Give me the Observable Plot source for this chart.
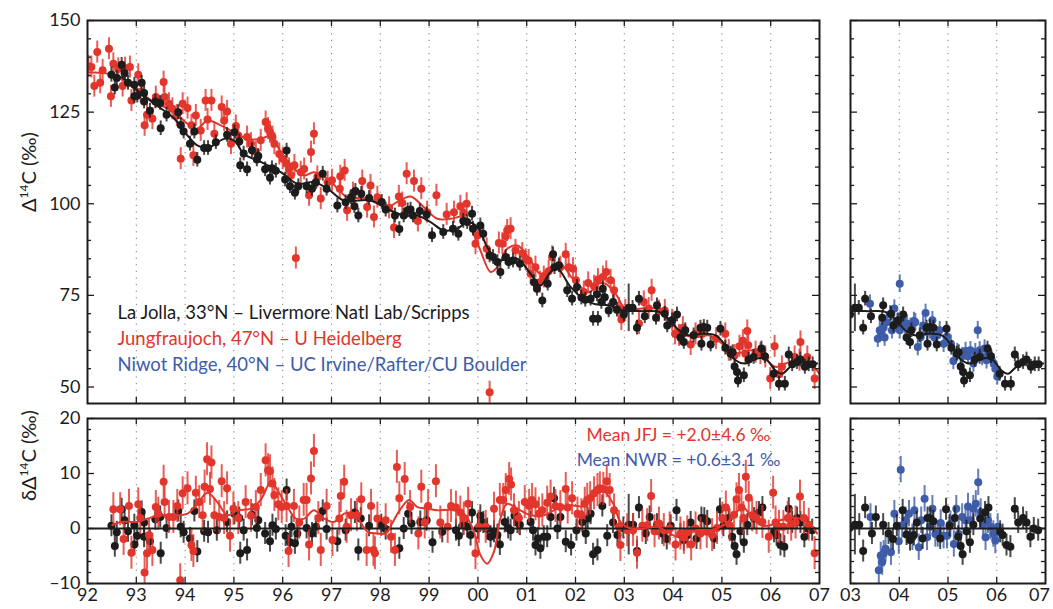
<!DOCTYPE html>
<html><head><meta charset="utf-8">
<script src="https://cdn.jsdelivr.net/npm/d3@7"></script>
<script src="https://cdn.jsdelivr.net/npm/@observablehq/plot@0.6"></script>
<style>
body{margin:0;background:#fff;}
#wrap{position:relative;width:1053px;height:609px;overflow:hidden;background:#fff;}
#wrap svg{position:absolute;overflow:visible;max-width:none;}
</style></head><body><div id="wrap"></div>
<script>
// time = decimal year minus 1900 (92 = 1992, 107 = 2007); values in per mil
const ljTop = [[92.49,135.2],[92.56,131.7],[92.60,134.3],[92.70,137.9],[92.76,135.6],[92.83,133.0],[92.96,132.5],[92.96,129.3],[93.02,129.5],[93.11,133.0],[93.16,130.2],[93.16,127.9],[93.28,125.4],[93.39,127.9],[93.49,127.5],[93.50,120.6],[93.62,124.3],[93.86,125.0],[93.91,121.5],[93.97,119.7],[94.10,116.4],[94.19,119.7],[94.25,112.0],[94.39,115.2],[94.47,115.2],[94.63,116.8],[94.86,118.8],[95.01,119.5],[95.11,117.0],[95.13,110.5],[95.20,113.7],[95.27,109.4],[95.37,114.6],[95.47,112.1],[95.50,113.0],[95.64,109.4],[95.74,107.1],[95.78,109.7],[95.86,109.0],[96.05,106.6],[96.08,114.5],[96.15,104.8],[96.25,103.0],[96.32,104.8],[96.49,104.8],[96.60,104.1],[96.68,105.9],[96.82,108.2],[96.90,104.1],[97.12,99.5],[97.29,100.4],[97.40,101.8],[97.47,99.3],[97.49,103.5],[97.55,96.8],[97.61,102.7],[97.77,101.6],[98.03,100.5],[98.11,98.4],[98.30,96.8],[98.39,93.1],[98.48,96.8],[98.56,98.2],[98.62,98.4],[98.67,96.8],[98.81,98.0],[98.95,97.1],[99.06,91.4],[99.29,92.3],[99.49,93.2],[99.60,91.8],[99.70,95.3],[99.78,95.0],[99.88,97.3],[99.90,93.2],[100.05,94.1],[100.11,91.8],[100.24,85.9],[100.31,85.5],[100.40,84.1],[100.46,81.4],[100.57,85.5],[100.63,84.1],[100.72,84.5],[100.86,83.6],[101.15,78.6],[101.21,76.8],[101.32,73.6],[101.43,78.2],[101.54,86.2],[101.57,82.7],[101.66,83.2],[101.83,76.4],[101.93,74.1],[102.03,77.3],[102.12,74.4],[102.20,73.8],[102.31,74.1],[102.36,68.6],[102.44,75.3],[102.46,68.6],[102.53,73.2],[102.56,76.8],[102.60,74.5],[102.68,70.9],[102.77,73.2],[102.85,71.1],[102.99,69.8],[103.09,71.6,6.5],[103.17,71.6],[103.26,66.2],[103.30,74.1],[103.42,69.3],[103.65,68.9],[103.67,72.3],[103.83,70.0],[103.88,66.8],[103.98,68.2],[104.08,69.8],[104.15,63.5],[104.22,62.3],[104.25,65.5],[104.42,64.1],[104.56,66.2],[104.58,61.8],[104.63,66.4],[104.70,66.2],[104.77,61.6],[104.97,65.9],[105.07,60.7],[105.18,59.1],[105.22,59.5],[105.26,55.6],[105.31,54.1],[105.33,51.8],[105.45,53.2],[105.55,57.5],[105.65,58.2],[105.81,60.5],[105.88,58.4],[106.06,53.6],[106.17,50.9],[106.29,50.9],[106.37,58.9],[106.44,56.2],[106.54,56.8],[106.61,57.5],[106.70,55.5],[106.78,56.2],[106.86,56.2]];
const ljCurve = [[92.48,135.5],[92.75,134.1],[93.02,130.9],[93.37,127.3],[93.78,123.2],[94.05,118.6],[94.25,115.9],[94.46,115.2],[94.80,117.7],[95.0,117.3],[95.21,113.6],[95.55,111.4],[95.96,108.6],[96.30,105.5],[96.64,105.9],[96.92,104.1],[97.25,100.9],[97.80,100.9],[98.14,98.6],[98.48,96.8],[98.76,96.8],[99.03,95.0],[99.30,92.7],[99.58,93.2],[99.78,95.0],[99.99,93.6],[100.19,88.2],[100.40,84.5],[100.60,85.0],[100.81,85.0],[101.08,80.9],[101.28,77.7],[101.49,81.4],[101.63,82.3],[101.90,77.3],[102.2,73.6],[102.41,72.6],[102.68,72.3],[102.96,70.9],[103.37,70.7],[103.71,70.5],[103.91,68.6],[104.12,65.5],[104.32,64.1],[104.60,64.5],[104.87,64.1],[105.07,61.4],[105.28,57.3],[105.48,56.4],[105.69,57.7],[105.89,57.7],[106.10,54.5],[106.23,53.6],[106.44,55.9],[106.71,56.8],[106.95,56.4]];
const jfjTop = [[92.02,137.5],[92.08,137.3],[92.14,132.1],[92.20,141.4],[92.26,133.0],[92.31,136.4],[92.44,142.3],[92.48,129.3],[92.53,138.2],[92.63,136.8],[92.72,132.1],[92.77,137.0],[92.87,137.3],[92.90,128.2],[93.04,135.2],[93.09,130.5],[93.17,121.4],[93.22,124.3],[93.33,123.2],[93.40,129.1],[93.56,133.2],[93.58,129.1],[93.67,127.3],[93.74,125.9],[93.83,124.1],[93.91,112.3],[93.95,127.3],[94.05,126.1],[94.13,121.4],[94.17,113.2],[94.22,124.1],[94.32,120.0],[94.42,128.2],[94.46,123.0],[94.54,128.2],[94.60,119.1],[94.75,126.4],[94.80,122.7],[94.86,125.2],[94.94,116.4],[95.04,121.2],[95.09,118.6],[95.27,118.2],[95.35,116.4],[95.45,114.1],[95.55,117.3],[95.65,122.3],[95.70,120.5],[95.74,119.5],[95.79,118.2],[95.83,116.4],[95.93,113.6],[96.00,112.3],[96.08,110.9],[96.13,109.5],[96.17,107.7],[96.24,110.5],[96.27,85.2],[96.37,108.6],[96.44,109.5],[96.54,102.3],[96.58,114.1],[96.64,119.1],[96.71,107.3],[96.78,101.4],[96.92,105.9],[97.01,106.4],[97.17,104.1],[97.18,107.5],[97.27,109.1],[97.32,98.2],[97.44,102.9],[97.63,106.2],[97.73,99.1],[97.80,105.0],[97.87,96.4],[97.94,101.8],[98.18,98.9],[98.28,93.5],[98.38,102.0],[98.45,100.2],[98.54,108.2],[98.69,106.2],[98.77,95.3],[98.84,104.1],[98.96,97.7],[99.15,102.3],[99.36,97.1],[99.51,97.7],[99.64,99.3],[99.71,97.5],[99.77,100.0],[99.95,89.1],[100.0,91.4],[100.18,87.7],[100.24,48.6],[100.43,89.3],[100.50,89.1],[100.57,91.1],[100.60,92.7],[100.67,93.2],[100.77,87.3],[100.91,86.4],[100.98,84.7],[101.04,84.5],[101.08,80.9],[101.18,82.7],[101.27,78.6],[101.35,80.0],[101.45,81.6],[101.52,85.5],[101.69,82.7],[101.80,86.2],[101.86,82.7],[101.95,82.3],[102.01,79.1],[102.17,75.9],[102.26,78.4],[102.38,77.5],[102.46,79.3],[102.56,80.0],[102.63,81.4],[102.72,79.1],[102.79,76.4],[102.89,71.4],[102.94,68.4],[103.02,70.9],[103.30,67.3],[103.40,73.2],[103.50,71.4],[103.56,76.4],[103.71,70.7],[103.83,70.9],[103.98,68.2],[104.04,64.5],[104.12,64.1],[104.20,66.2],[104.36,61.6],[104.46,64.5],[104.60,64.5],[104.88,63.2],[105.07,64.5],[105.14,60.0],[105.26,58.6],[105.36,61.1],[105.43,62.6],[105.48,59.1],[105.52,65.3],[105.54,61.4],[105.69,59.5],[105.79,59.1],[105.89,58.2],[105.99,52.3],[106.08,61.1],[106.17,53.5],[106.23,55.5],[106.49,58.2],[106.59,57.3],[106.61,62.3],[106.75,58.2],[106.90,52.3]];
const jfjCurve = [[92.0,135.9],[92.41,135.5],[92.68,134.1],[93.02,130.9],[93.37,127.7],[93.78,125.0],[94.05,121.8],[94.25,120.5],[94.46,122.7],[94.73,121.4],[95.0,119.5],[95.28,117.7],[95.55,117.7],[95.76,118.6],[95.96,114.1],[96.24,109.5],[96.44,107.7],[96.64,108.6],[96.92,106.8],[97.19,103.2],[97.32,101.8],[97.80,101.4],[98.14,99.1],[98.35,100.5],[98.62,102.0],[98.89,99.1],[99.17,95.9],[99.44,95.9],[99.71,96.4],[99.85,93.6],[100.05,87.3],[100.26,81.4],[100.40,82.7],[100.60,87.7],[100.81,88.6],[101.08,84.5],[101.28,80.9],[101.49,82.7],[101.69,83.6],[101.97,79.1],[102.27,75.9],[102.48,78.2],[102.61,78.2],[102.82,75.5],[103.02,71.4],[103.37,71.4],[103.64,71.4],[103.91,68.2],[104.19,64.5],[104.46,63.6],[104.73,64.1],[105.01,61.8],[105.21,59.1],[105.42,59.5],[105.62,60.0],[105.89,57.7],[106.10,55.5],[106.30,56.4],[106.51,57.3],[106.78,56.8],[107.02,53.2]];
const nwrTop = [[103.40,72.7],[103.56,63.2],[103.60,65.5],[103.63,65.0],[103.67,66.2],[103.70,63.5],[103.74,67.7],[103.81,69.8],[103.85,65.5],[103.90,71.4],[103.96,67.7],[104.01,78.2],[104.01,65.5],[104.06,68.2],[104.11,66.8],[104.16,67.3],[104.23,66.4],[104.30,68.0],[104.33,67.7],[104.38,60.9],[104.44,63.6],[104.49,66.8],[104.54,70.2],[104.57,65.0],[104.63,65.5],[104.68,68.2],[104.72,63.5],[104.78,64.1],[104.83,65.5],[104.91,61.8],[104.98,63.8],[105.06,61.8],[105.11,57.1],[105.19,59.5],[105.29,58.4],[105.36,59.8],[105.41,58.4],[105.46,60.0],[105.52,56.4],[105.56,59.5],[105.61,65.5],[105.65,60.0],[105.70,58.2],[105.75,60.5],[105.79,57.3],[105.84,59.1],[105.89,57.7],[105.94,56.4],[105.97,55.0],[106.01,52.9]];
const ljRes = [[92.49,0.5],[92.56,-3.2],[92.60,-0.7],[92.70,3.5],[92.76,1.5],[92.83,-0.5],[92.96,0.6],[92.96,-2.9],[93.02,-1.3],[93.11,3.0],[93.16,1.1],[93.16,-1.5],[93.28,-2.3],[93.39,1.7],[93.49,2.1],[93.50,-4.5],[93.62,0.1],[93.86,3.2],[93.91,0.3],[93.97,-0.7],[94.10,-1.8],[94.19,3.2],[94.25,-4.2],[94.39,-0.5],[94.47,-0.7],[94.65,-0.3],[94.86,1.2],[95.01,2.7],[95.11,1.9],[95.13,-4.5],[95.20,-0.3],[95.27,-3.9],[95.37,2.5],[95.47,0.1],[95.50,1.5],[95.64,-0.9],[95.74,-2.3],[95.79,0.6],[95.86,-0.1],[96.06,-1.3],[96.08,7.0],[96.15,-2.5],[96.18,0.3],[96.25,-2.7],[96.30,-0.9],[96.49,0.1],[96.60,-0.9],[96.68,0.3],[96.82,3.2],[96.90,-0.1],[97.12,-2.3],[97.29,-0.3],[97.48,2.9],[97.55,-3.9],[97.60,1.8],[97.77,0.5],[98.02,0.6],[98.11,-0.1],[98.39,-3.6],[98.48,0],[98.57,2.7],[98.64,0.9],[98.82,1.2],[98.95,1.5],[99.07,-2.5],[99.27,-0.6],[99.55,-0.3],[99.61,-1.3],[99.70,0.7],[99.78,0.3],[99.85,-1.2],[99.88,2.9],[100.0,0],[100.05,2.3],[100.11,1.1],[100.19,-0.1],[100.26,-1.5],[100.33,-0.6],[100.40,-1.2],[100.45,-2.9],[100.55,1.2],[100.62,0.1],[100.67,-0.3],[100.75,2.3],[100.81,1.1],[100.86,0.7],[101.08,1.2],[101.13,-0.3],[101.18,-3.0],[101.23,-1.8],[101.28,-3.6],[101.35,-1.5],[101.42,-1.5],[101.49,2.1],[101.56,5.5],[101.63,0],[101.69,2.1],[101.80,-2.4],[101.91,-3.0],[102.02,-0.3],[102.14,1.2],[102.21,-0.9],[102.25,1.8],[102.31,2.7],[102.36,-4.7],[102.45,-3.9],[102.55,4.1],[102.65,-1.3],[102.77,1.1],[102.86,-1.2],[102.98,0.1],[103.09,0.7,5.5],[103.18,0.7],[103.26,-4.1],[103.30,3.8],[103.44,-0.9],[103.52,2.1],[103.67,0.7],[103.78,-0.9],[103.87,-1.9],[103.95,0.5],[104.07,3.3],[104.15,-1.1],[104.22,-2.1],[104.30,-1.2],[104.36,1.1],[104.48,-1.8],[104.58,1.9],[104.64,1.8],[104.70,1.3],[104.84,-1.8],[104.96,3.5],[105.03,0.5],[105.14,1.9],[105.21,-1.5],[105.26,-3.2],[105.30,-4.7],[105.38,-0.5],[105.45,-2.5],[105.52,0.7],[105.66,1.8],[105.76,2.9],[105.83,3.8],[106.07,-0.6],[106.12,-1.2],[106.20,-3.0],[106.28,-3.3],[106.37,3.6],[106.44,1.1],[106.54,1.9],[106.61,1.1],[106.69,-1.5],[106.76,0],[106.85,-0.3]];
const jfjRes = [[92.53,3.5],[92.67,3.5],[92.74,-1.9],[92.85,4.1],[92.90,-4.4],[93.04,4.4],[93.08,1.9],[93.17,-8.0],[93.22,-4.5],[93.26,-1.2],[93.33,-3.9],[93.40,3.9],[93.45,2.7],[93.56,8.5],[93.58,4.8],[93.67,2.1],[93.76,2.1],[93.84,4.1],[93.90,-9.4],[93.95,6.4],[94.05,7.3],[94.13,-3.0],[94.17,-4.1],[94.22,6.5],[94.29,4.8],[94.36,2.4],[94.40,7.6],[94.45,12.6],[94.51,7.2],[94.54,12.0],[94.60,2.4],[94.70,2.1],[94.75,8.6],[94.80,1.9],[94.86,7.3],[94.92,-1.3],[94.99,3.6],[95.09,1.9],[95.24,4.8],[95.35,2.3],[95.45,3.9],[95.55,7.0],[95.65,12.4],[95.70,10.6],[95.74,10.4],[95.79,8.2],[95.83,6.1],[95.91,4.4],[95.98,3.9],[96.08,4.1],[96.12,-4.1],[96.23,4.1],[96.34,1.1],[96.43,5.2],[96.49,5.2],[96.54,-2.9],[96.58,9.1],[96.64,14.1],[96.73,1.9],[96.78,-3.9],[96.90,4.1],[97.02,-2.1],[97.16,1.8],[97.19,5.9],[97.26,8.5],[97.31,0.3],[97.40,2.4],[97.52,2.4],[97.61,5.3],[97.72,-3.9],[97.81,4.1],[97.86,-3.9],[97.89,-4.5],[97.94,1.8],[98.11,1.5],[98.22,-1.5],[98.30,-3.9],[98.34,11.2],[98.39,5.5],[98.50,9.0],[98.61,3.9],[98.78,-0.9],[98.84,7.6],[98.91,1.1],[98.98,4.1],[99.14,8.6],[99.23,1.1],[99.38,0.3],[99.45,4.1],[99.55,3.8],[99.64,2.9],[99.71,1.8],[99.80,4.5],[99.95,-4.5],[100.02,0.3],[100.16,0.3],[100.33,3.6],[100.45,5.2],[100.52,5.2],[100.57,7.0],[100.64,9.0],[100.68,8.0],[100.74,3.3],[100.84,1.9],[100.96,4.8],[101.05,4.1],[101.11,5.2],[101.18,4.4],[101.25,2.7],[101.32,3.3],[101.42,4.7],[101.49,5.8],[101.59,4.1],[101.69,3.9],[101.80,7.2],[101.84,3.8],[101.93,5.5],[102.04,2.7],[102.12,2.4],[102.19,4.5],[102.24,5.2],[102.30,5.5],[102.38,6.4],[102.45,7.0],[102.50,7.3],[102.57,7.2],[102.64,8.6],[102.70,7.0],[102.79,3.3],[102.89,0.3],[102.92,-3.0],[103.06,-0.3],[103.18,-0.3],[103.26,-4.4],[103.37,0.5],[103.47,0.6],[103.55,5.9],[103.62,-0.5],[103.71,0.9],[103.81,-0.3],[103.93,0],[104.05,-2.9],[104.15,-0.9],[104.22,-1.7],[104.29,-0.7],[104.37,-2.9],[104.46,0],[104.56,-0.9],[104.69,-0.6],[104.80,-1.2],[104.90,0.1],[105.01,1.8],[105.08,3.8],[105.16,0.6],[105.25,2.5],[105.30,5.3],[105.35,7.0],[105.40,3.8],[105.44,1.9],[105.49,9.4],[105.55,5.6],[105.62,2.4],[105.71,1.9],[105.83,1.2],[105.96,-1.5],[106.05,6.5],[106.10,1.1],[106.17,0.3],[106.26,0.3],[106.35,1.9],[106.42,0.7],[106.51,1.1],[106.60,5.8],[106.68,1.9],[106.78,0.7],[106.90,-4.5]];
const jfjResCurve = [[92.51,0.6],[92.68,1.2],[93.02,1.2],[93.23,1.8],[93.50,2.4],[93.78,2.4],[94.05,2.7],[94.25,4.5],[94.46,6.5],[94.66,4.8],[94.87,2.4],[95.07,3.3],[95.35,3.6],[95.55,5.2],[95.76,8.5],[95.89,7.0],[96.10,3.9],[96.27,1.8],[96.44,1.8],[96.64,3.3],[96.85,1.8],[97.05,1.2],[97.26,2.7],[97.46,2.7],[97.74,-0.6],[97.94,-0.9],[98.11,-0.9],[98.22,0.6],[98.42,3.6],[98.59,5.2],[98.76,3.9],[98.97,3.6],[99.17,3.3],[99.44,3.4],[99.71,2.7],[99.92,-0.6],[100.05,-4.8],[100.19,-6.4],[100.33,-4.2],[100.46,1.8],[100.60,4.5],[100.81,3.6],[101.08,2.4],[101.35,2.4],[101.63,3.6],[101.90,4.2],[102.17,4.1],[102.38,6.1],[102.58,6.7],[102.79,4.2],[102.92,1.2],[103.13,0],[103.40,0],[103.67,0.3],[103.88,-0.6],[104.08,-1.5],[104.29,-1.2],[104.49,-0.3],[104.77,-0.3],[105.04,0.6],[105.25,2.4],[105.42,3.9],[105.59,2.4],[105.79,0.6],[106.0,0.6],[106.20,1.5],[106.41,1.9],[106.61,1.8],[106.82,0.6],[106.95,-0.9]];
const nwrRes = [[103.41,2.1],[103.58,-7.6],[103.62,-4.9],[103.65,-6.1],[103.68,-4.6],[103.72,-3.7],[103.83,-4.3],[103.90,2.7],[103.99,-2.3],[104.03,10.7],[104.06,0.6],[104.13,1.5],[104.20,2.7],[104.27,-1.6],[104.31,3.3],[104.40,-3.4],[104.45,1.5],[104.52,5.4],[104.57,-1.6],[104.63,0.3],[104.68,3.6],[104.74,-1.0],[104.79,-1.0],[104.85,1.0],[104.91,-1.3],[104.98,-1.3],[105.05,0.8],[105.12,-2.8],[105.17,3.6],[105.22,-1.0],[105.29,2.1],[105.36,1.5],[105.41,4.0],[105.46,1.5],[105.52,3.6],[105.57,4.5],[105.62,8.4],[105.67,3.0],[105.72,0.8],[105.77,-1.6],[105.82,1.5],[105.87,0.3],[105.93,-1.0],[105.97,-2.2],[106.02,0.3]];

const legendLines = ["La Jolla, 33°N – Livermore Natl Lab/Scripps", "Jungfraujoch, 47°N – U Heidelberg", "Niwot Ridge, 40°N – UC Irvine/Rafter/CU Boulder"];
const meanLines = ["Mean JFJ = +2.0±4.6 ‰", "Mean NWR = +0.6±3.1 ‰"];
const yTicksTop = [50, 75, 100, 125, 150];
const yTicksBottom = [-10, 0, 10, 20];

const FONT = "Lato, 'Noto Sans', sans-serif";
const INK = "#1c1c1c", RED = "#e2352c", BLUE = "#3e5ca8";

const pts = (arr, e0) => arr.map(([t, v, e]) => ({t, v, e: e ?? e0}));
const series = (arr, color, e0) => {
  const data = pts(arr, e0);
  return [
    Plot.ruleX(data, {x: "t", y1: d => d.v - d.e, y2: d => d.v + d.e, stroke: color, strokeWidth: 2, strokeOpacity: 0.8, clip: true}),
    Plot.dot(data, {x: "t", y: "v", r: 4, fill: color, stroke: "none", clip: true})
  ];
};
const curve = (arr, color) => Plot.line(arr, {x: d => d[0], y: d => d[1], stroke: color, strokeWidth: 2, curve: "catmull-rom", clip: true});
const yrFmt = d => String(d % 100).padStart(2, "0");
const numFmt = d => d < 0 ? "–" + (-d) : String(d);

function panel(cfg) {
  const {left, top, width, height, margin: [mt, mr, mb, ml], xDomain, yDomain, yMajor, yMinor, yLabels, xLabels, lastLabelDx = 0, layers, extra = []} = cfg;
  const pw = width - ml - mr, ph = height - mt - mb;
  const years = d3.range(xDomain[0], xDomain[1] + 1);
  const inner = years.slice(1, -1);
  const tk = {stroke: INK, strokeWidth: 1.3};
  const marks = [
    Plot.ruleX(inner, {x: d => d, stroke: "#7a7a7a", strokeWidth: 1, strokeDasharray: "1.2 5.4"}),
    ...layers,
    Plot.tickX(inner, {x: d => d, insetTop: ph - 6, ...tk}),
    Plot.tickX(inner, {x: d => d, insetBottom: ph - 6, ...tk}),
    Plot.tickY(yMajor, {y: d => d, insetRight: pw - 7, ...tk}),
    Plot.tickY(yMajor, {y: d => d, insetLeft: pw - 7, ...tk}),
    Plot.tickY(yMinor, {y: d => d, insetRight: pw - 4, ...tk}),
    Plot.tickY(yMinor, {y: d => d, insetLeft: pw - 4, ...tk}),
    Plot.frame({stroke: INK, strokeWidth: 2}),
    ...extra
  ];
  if (yLabels) marks.push(Plot.axisY({anchor: "left", ticks: yMajor, tickSize: 0, tickPadding: 7, fontSize: 18, label: null, tickFormat: numFmt, fill: INK}));
  if (xLabels) {
    marks.push(Plot.axisX({anchor: "bottom", ticks: years.slice(0, -1), tickSize: 0, tickPadding: 5, fontSize: 18, label: null, tickFormat: yrFmt, fill: INK}));
    marks.push(Plot.axisX({anchor: "bottom", ticks: years.slice(-1), tickSize: 0, tickPadding: 5, dx: lastLabelDx, fontSize: 18, label: null, tickFormat: yrFmt, fill: INK}));
  }
  const svg = Plot.plot({
    width, height, marginTop: mt, marginRight: mr, marginBottom: mb, marginLeft: ml,
    x: {domain: xDomain, axis: null}, y: {domain: yDomain, axis: null},
    style: {fontFamily: FONT, fontSize: "17px", background: "transparent", overflow: "visible", color: INK},
    marks
  });
  svg.style.left = left + "px";
  svg.style.top = top + "px";
  // superscript for the y titles
  svg.querySelectorAll("text").forEach(t => {
    const s = t.textContent;
    if (s.includes("Δ14C")) {
      const pre = s.split("14")[0];
      t.innerHTML = `${pre}<tspan dy="-8" font-size="12">14</tspan><tspan dy="8">C (‰)</tspan>`;
    }
  });
  document.getElementById("wrap").appendChild(svg);
}

const topMinor = d3.range(50, 150, 5).filter(v => v % 25 !== 0);
const botMinor = d3.range(-8, 20, 2).filter(v => v % 10 !== 0);

panel({
  left: 0, top: 0, width: 830, height: 412, margin: [20, 11, 9, 87],
  xDomain: [92, 107], yDomain: [45.5, 150], yMajor: yTicksTop, yMinor: topMinor, yLabels: true,
  layers: [...series(jfjTop, RED, 3.0), curve(jfjCurve, RED), ...series(ljTop, INK, 2.0), curve(ljCurve, INK)],
  extra: [
    Plot.text(["Δ14C (‰)"], {text: d => d, frameAnchor: "left", dx: -58, rotate: -90, fontSize: 20, fill: INK}),
    ...legendLines.map((s, i) => Plot.text([s], {text: d => d, frameAnchor: "top-left", dx: 30, dy: 298 + i * 26, textAnchor: "start", lineAnchor: "bottom", fontSize: 18.5, fill: [INK, RED, BLUE][i]}))
  ]
});
panel({
  left: 0, top: 412, width: 830, height: 197, margin: [6, 11, 26, 87],
  xDomain: [92, 107], yDomain: [-10, 20], yMajor: yTicksBottom, yMinor: botMinor, yLabels: true, xLabels: true,
  layers: [...series(ljRes, INK, 2.0), ...series(jfjRes, RED, 3.0), Plot.ruleY([0], {stroke: INK, strokeWidth: 2}), curve(jfjResCurve, RED)],
  extra: [
    Plot.text(["δΔ14C (‰)"], {text: d => d, frameAnchor: "left", dx: -58, rotate: -90, fontSize: 20, fill: INK}),
    ...meanLines.map((s, i) => Plot.text([s], {text: d => d, frameAnchor: "top-left", dx: 591, dy: 22 + i * 25, textAnchor: "middle", lineAnchor: "bottom", fontSize: 17.5, fill: [RED, BLUE][i]}))
  ]
});
panel({
  left: 830, top: 0, width: 223, height: 412, margin: [20, 8, 9, 20],
  xDomain: [103, 107], yDomain: [45.5, 150], yMajor: yTicksTop, yMinor: topMinor,
  layers: [...series(nwrTop, BLUE, 2.4), ...series(ljTop.filter(d => d[0] > 102.9), INK, 2.0), curve(ljCurve.filter(d => d[0] > 102.5), INK)]
});
panel({
  left: 830, top: 412, width: 223, height: 197, margin: [6, 8, 26, 20],
  xDomain: [103, 107], yDomain: [-10, 20], yMajor: yTicksBottom, yMinor: botMinor, xLabels: true, lastLabelDx: -6,
  layers: [...series(nwrRes, BLUE, 2.4), ...series(ljRes.filter(d => d[0] > 102.9), INK, 2.0), Plot.ruleY([0], {stroke: INK, strokeWidth: 2})]
});
</script></body></html>
